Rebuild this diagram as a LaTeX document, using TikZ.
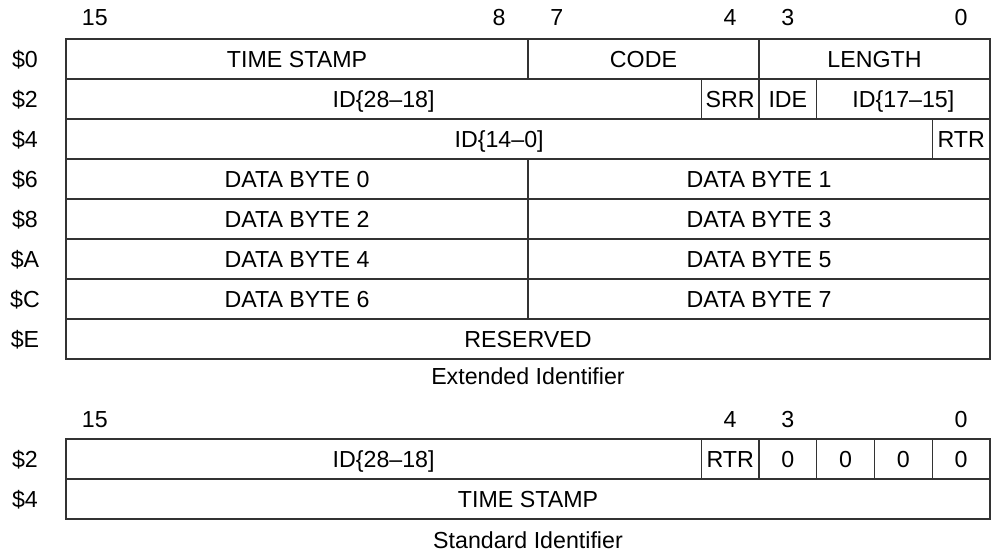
\documentclass[tikz,border=0pt]{standalone}
\usepackage{fontspec}
\setmainfont{Liberation Sans}
\usepackage{tikz}
\usetikzlibrary{positioning}

\newcommand{\bw}{57.75}
\tikzstyle{field} = [draw=black!80, line width=1.2pt, minimum height=40pt, inner sep=0pt,
    outer sep=0pt, text height=16.6pt, text depth=0pt, text centered, anchor=north west]
\tikzstyle{bitno} = [anchor=base, inner sep=0pt]
\tikzstyle{offset} = [inner sep=0pt, text height=16.6pt, text depth=0pt]
\tikzstyle{caption} = [anchor=base, inner sep=0pt]

\begin{document}
\begin{tikzpicture}[x=1pt, y=-1pt, font=\fontsize{23.2}{27}\selectfont]
   \useasboundingbox (0,0) rectangle (993,551);
   % bit numbers
   \foreach \k/\b in {0/15, 7/8, 8/7, 11/4, 12/3, 15/0}
      \node [bitno] (ebit\b) at (66+\k*\bw+\bw/2, 26) {\b};
   \foreach \k/\b in {0/15, 11/4, 12/3, 15/0}
      \node [bitno] (sbit\b) at (66+\k*\bw+\bw/2, 427) {\b};
   % offsets
   \foreach \r/\a in {0/0, 1/2, 2/4, 3/6, 4/8, 5/A, 6/C, 7/E}
      \node [offset] (eoff\a) at (25, 59+40*\r) {\$\a};
   \node [offset] (soff2) at (25, 459) {\$2};
   \node [offset] (soff4) at (25, 499) {\$4};
   % extended identifier
   \node [field, minimum width=8*\bw*1pt] (time_stamp) at (66, 39) {TIME STAMP};
   \node [field, minimum width=4*\bw*1pt, right=0pt of time_stamp] (code) {CODE};
   \node [field, minimum width=4*\bw*1pt, right=0pt of code] (length) {LENGTH};
   \node [field, minimum width=11*\bw*1pt] (id_high) at (66, 79) {ID\{28\textendash18]};
   \node [field, minimum width=\bw*1pt, right=0pt of id_high] (srr) {SRR};
   \node [field, minimum width=\bw*1pt, right=0pt of srr] (ide) {IDE};
   \node [field, minimum width=3*\bw*1pt, right=0pt of ide] (id_mid) {ID\{17\textendash15]};
   \node [field, minimum width=15*\bw*1pt] (id_low) at (66, 119) {ID\{14\textendash0]};
   \node [field, minimum width=\bw*1pt, right=0pt of id_low] (ext_rtr) {RTR};
   \foreach \r in {0,1,2,3} {
      \pgfmathtruncatemacro{\lo}{2*\r}
      \pgfmathtruncatemacro{\hi}{2*\r+1}
      \node [field, minimum width=8*\bw*1pt] (data\lo) at (66, 159+40*\r) {DATA BYTE \lo};
      \node [field, minimum width=8*\bw*1pt, right=0pt of data\lo] (data\hi) {DATA BYTE \hi};
   }
   \node [field, minimum width=16*\bw*1pt] (reserved) at (66, 319) {RESERVED};
   \node [caption] (ext_caption) at (528, 384) {Extended Identifier};
   % standard identifier
   \node [field, minimum width=11*\bw*1pt] (std_id) at (66, 439) {ID\{28\textendash18]};
   \node [field, minimum width=\bw*1pt, right=0pt of std_id] (std_rtr) {RTR};
   \node [field, minimum width=\bw*1pt, right=0pt of std_rtr] (zero3) {0};
   \node [field, minimum width=\bw*1pt, right=0pt of zero3] (zero2) {0};
   \node [field, minimum width=\bw*1pt, right=0pt of zero2] (zero1) {0};
   \node [field, minimum width=\bw*1pt, right=0pt of zero1] (zero0) {0};
   \node [field, minimum width=16*\bw*1pt] (std_stamp) at (66, 479) {TIME STAMP};
   \node [caption] (std_caption) at (528, 548) {Standard Identifier};
\end{tikzpicture}
\end{document}
